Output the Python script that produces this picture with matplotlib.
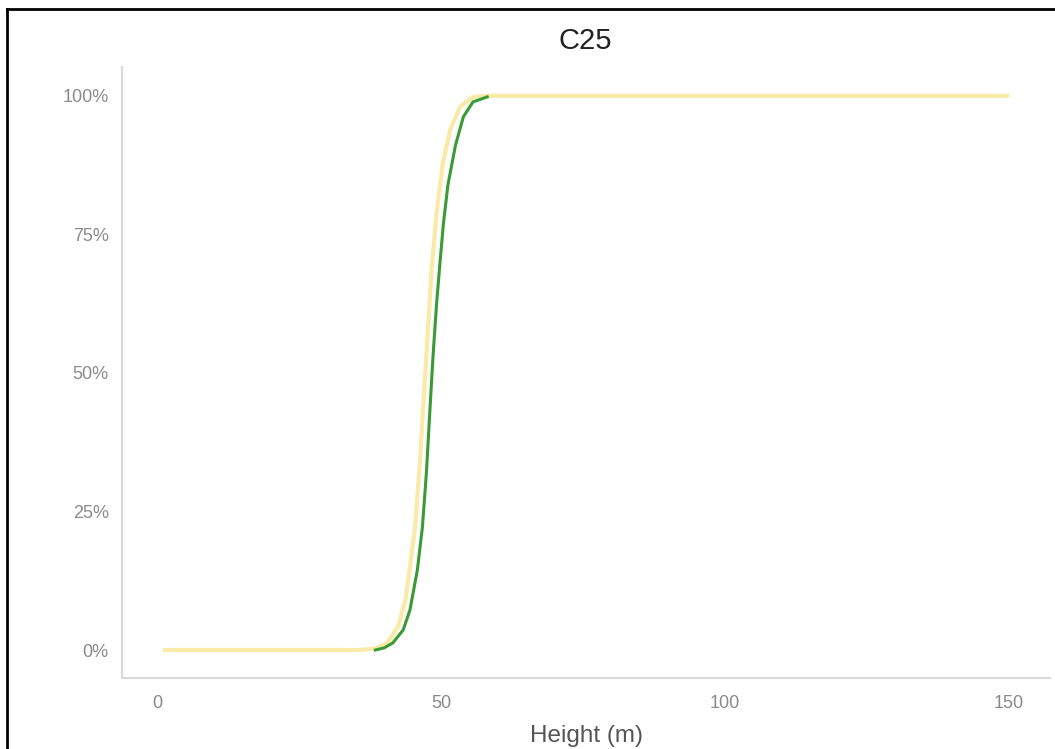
import matplotlib
matplotlib.use("Agg")
import matplotlib.pyplot as plt
from matplotlib.ticker import PercentFormatter
from matplotlib.lines import Line2D

plt.rcParams['font.family'] = ['Liberation Sans', 'DejaVu Sans']

title = "C25"
xlabel = "Height (m)"
x_ticks = [0, 50, 100, 150]
y_ticks = [0, 25, 50, 75, 100]

# Yellow curve (cumulative %, height in m)
yellow_x = [1.0, 35.7, 38.5, 40.5, 42.4, 43.7, 44.5, 45.4, 46.2, 46.8, 47.6, 48.3,
            49.2, 50.3, 51.6, 53.3, 55.6, 58.0, 150.0]
yellow_y = [0.0, 0.0, 0.3, 1.3, 4.2, 9.0, 15.0, 22.2, 33.0, 43.3, 56.5, 68.6,
            78.9, 87.9, 93.9, 98.0, 99.8, 100.0, 100.0]

# Green curve
green_x = [38.4, 40.0, 41.5, 43.3, 44.5, 45.8, 46.7, 47.4, 48.0, 48.6, 49.2,
           49.8, 50.4, 51.2, 52.5, 53.9, 55.6, 58.1]
green_y = [0.0, 0.4, 1.3, 3.6, 7.2, 14.4, 22.2, 32.0, 43.0, 53.6, 62.6,
           70.0, 77.0, 84.0, 91.0, 96.2, 98.9, 99.8]

fig = plt.figure(figsize=(10.55, 7.49), dpi=100)
ax = fig.add_axes([122/1055, 1-678/749, (1050-122)/1055, (678-67)/749])

ax.plot(yellow_x, yellow_y, color='#f9eaa8', lw=3.0, solid_capstyle='butt', zorder=2)
ax.plot(green_x, green_y, color='#3a9a34', lw=2.2, zorder=3)

ax.set_xlim(-6.2, 157.2)
ax.set_ylim(-5.05, 105.2)
ax.set_xticks(x_ticks)
ax.set_yticks(y_ticks)
ax.yaxis.set_major_formatter(PercentFormatter(decimals=0))
ax.tick_params(length=0, colors='#8a8a8a', labelsize=13)
ax.tick_params(axis='y', pad=9.5)
ax.tick_params(axis='x', pad=12.5)
for s in ['top', 'right']:
    ax.spines[s].set_visible(False)
for s in ['left', 'bottom']:
    ax.spines[s].set_color('#d9d9d9')
    ax.spines[s].set_linewidth(1.5)
ax.set_xlabel(xlabel, fontsize=17.5, color='#555555', labelpad=9)
fig.text(585/1055, 1-41/749, title, ha='center', va='center', fontsize=21, color='#222222')

# image frame (top and left edges)
fig.add_artist(Line2D([7/1055, 7/1055], [0, 1-9/749], transform=fig.transFigure, color='black', lw=2))
fig.add_artist(Line2D([7/1055, 1], [1-9/749, 1-9/749], transform=fig.transFigure, color='black', lw=2))

fig.savefig('out.png', dpi=100)
